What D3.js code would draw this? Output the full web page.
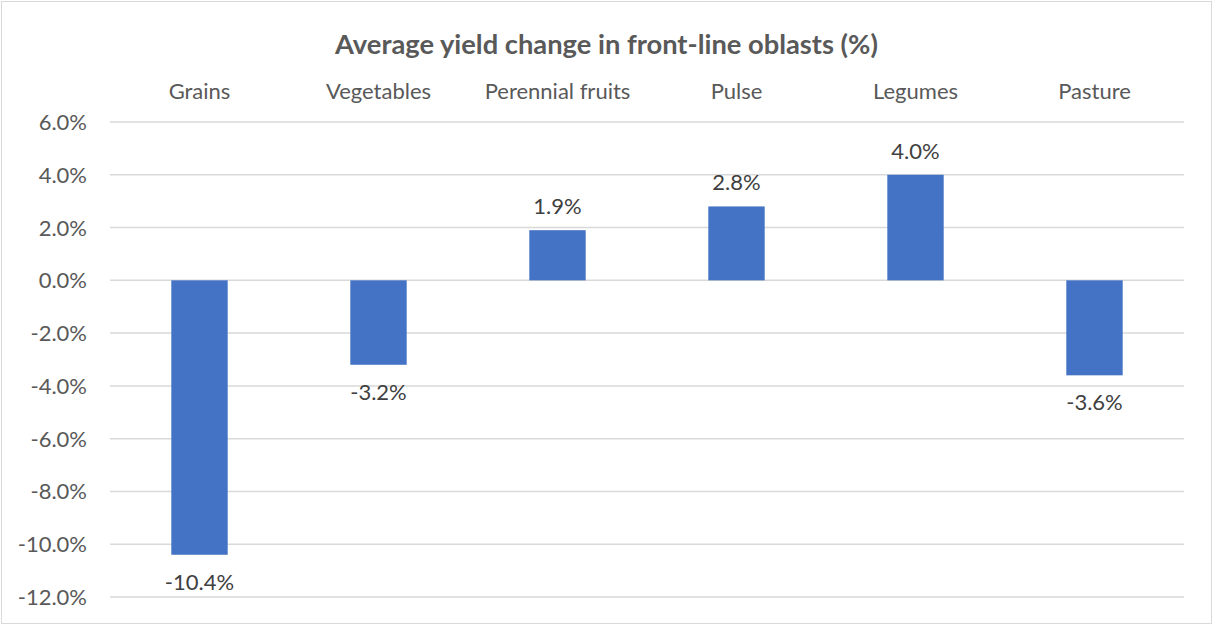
<!DOCTYPE html>
<html>
<head>
<meta charset="utf-8">
<script src="https://cdn.jsdelivr.net/npm/d3@7"></script>
<style>
body { margin: 0; background: #fff; }
text { font-family: Lato, "Open Sans", sans-serif; }
</style>
</head>
<body>
<div id="chart"></div>
<script>
// chart data
const categories = ['Grains', 'Vegetables', 'Perennial fruits', 'Pulse', 'Legumes', 'Pasture'];
const values = [-10.4, -3.2, 1.9, 2.8, 4.0, -3.6];
const yTicks = [6, 4, 2, 0, -2, -4, -6, -8, -10, -12];

const width = 1213, height = 625;
const margin = { left: 110, right: 29, top: 122, bottom: 28 };

const svg = d3.select('#chart')
  .append('svg')
  .attr('width', width)
  .attr('height', height);

// outer border
svg.append('rect')
  .attr('x', 1.5).attr('y', 1.5)
  .attr('width', width - 3).attr('height', height - 3)
  .attr('fill', '#fff')
  .attr('stroke', '#d9d9d9');

const x = d3.scaleBand()
  .domain(categories)
  .range([margin.left, width - margin.right])
  .paddingInner(0.685)
  .paddingOuter(0.3425);

const y = d3.scaleLinear()
  .domain([-12, 6])
  .range([height - margin.bottom, margin.top]);

// gridlines
svg.append('g')
  .selectAll('line')
  .data(yTicks)
  .join('line')
  .attr('x1', margin.left)
  .attr('x2', width - margin.right)
  .attr('y1', d => y(d))
  .attr('y2', d => y(d))
  .attr('stroke', '#d9d9d9')
  .attr('stroke-width', 1.5);

// y axis labels
svg.append('g')
  .selectAll('text')
  .data(yTicks)
  .join('text')
  .attr('x', 87)
  .attr('y', d => y(d) + 8)
  .attr('text-anchor', 'end')
  .attr('font-size', 22)
  .attr('fill', '#595959')
  .text(d => d.toFixed(1) + '%');

// category labels across the top
svg.append('g')
  .selectAll('text')
  .data(categories)
  .join('text')
  .attr('x', d => x(d) + x.bandwidth() / 2)
  .attr('y', 99)
  .attr('text-anchor', 'middle')
  .attr('font-size', 22)
  .attr('fill', '#595959')
  .text(d => d);

// bars
svg.append('g')
  .selectAll('rect')
  .data(values)
  .join('rect')
  .attr('x', (d, i) => x(categories[i]))
  .attr('width', x.bandwidth())
  .attr('y', d => y(Math.max(0, d)))
  .attr('height', d => Math.abs(y(d) - y(0)))
  .attr('fill', '#4472c4');

// data labels
svg.append('g')
  .selectAll('text')
  .data(values)
  .join('text')
  .attr('x', (d, i) => x(categories[i]) + x.bandwidth() / 2)
  .attr('y', d => d >= 0 ? y(d) - 16 : y(d) + 35)
  .attr('text-anchor', 'middle')
  .attr('font-size', 22)
  .attr('fill', '#404040')
  .text(d => d.toFixed(1) + '%');

// title
svg.append('text')
  .attr('x', width / 2)
  .attr('y', 54)
  .attr('text-anchor', 'middle')
  .attr('font-size', 27.3)
  .attr('font-weight', 'bold')
  .attr('fill', '#595959')
  .text('Average yield change in front-line oblasts (%)');
</script>
</body>
</html>
